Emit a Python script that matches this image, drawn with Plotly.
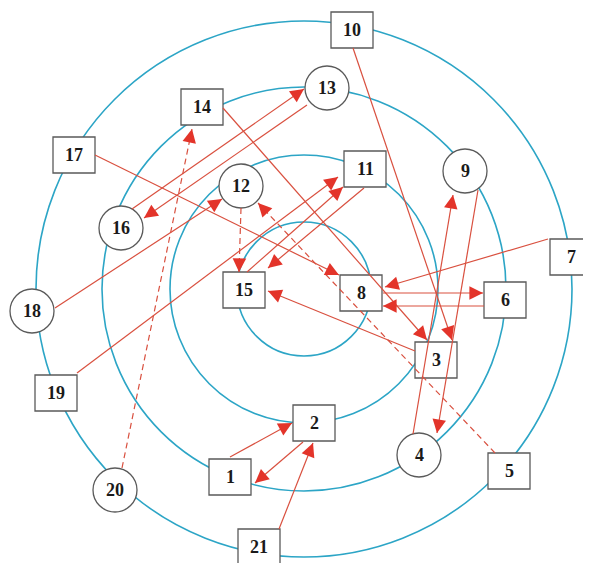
import math
import plotly.graph_objects as go

# ---------------- data ----------------
node_ids = list(range(1, 22))
node_shape = ["box", "box", "box", "circle", "box", "box", "box", "box", "circle", "box",
              "box", "circle", "circle", "box", "box", "circle", "box", "circle", "box", "circle", "box"]
node_x = [230, 314, 436, 419, 509, 505, 571, 361, 465, 352, 365, 241, 327, 202, 244, 121, 74, 32, 56, 115, 259]
node_y = [477, 423, 360, 455, 471, 300, 257, 293, 171, 30, 169, 186, 88, 107, 290, 228, 155, 311, 393, 490, 547]

ring_center = (304, 289)
ring_radii = [67, 134, 202, 268]

edge_src = [1, 2, 21, 20, 19, 15, 11, 18, 16, 13, 12, 5, 17, 14, 10, 3, 7, 8, 6, 4, 9]
edge_dst = [2, 1, 2, 14, 11, 11, 15, 12, 13, 16, 15, 12, 8, 3, 3, 15, 8, 6, 8, 9, 4]
edge_dashed = [False, False, False, True, False, False, False, False, False, False, True, True,
               False, False, False, False, False, False, False, False, False]

# ---------------- layout / style ----------------
# endpoint ports as offsets from node centres (source dx, dy, target dx, dy)
ports = [
    (0, -20, -22, 0), (-11, 19, 25, 6), (20, -18, -1, 20), (7, -22, -10, 22),
    (21, -20, -27, 8), (3, -18, -22, 18), (-1, 19, 24, -22), (23, -3, -19, 13),
    (11, -19, -23, 1), (-20, 17, 23, -10), (0, 22, -5, -18), (-14, -18, 17, 17),
    (21, 0, -22, -18), (21, 1, -9, -20), (1, 18, 16, -20), (-21, -9, 24, 1),
    (-23, -18, 24, -6), (22, 0, -22, -7), (-21, 6, 22, 13), (-6, -21, -12, 24),
    (13, 19, 18, -22),
]
W, H = 591, 563
PAGE_MARGIN = 8  # default body margin of the html page
ring_color = "#2CA5C6"
edge_color = "#D9503F"
head_color = "#E3342A"
node_line = "#5A5A5A"
BOX_W, BOX_H, CIRC_R = 42, 36, 22

fig = go.Figure()
shapes = []
cx, cy = ring_center
for r in ring_radii:
    shapes.append(dict(type="circle", xref="x", yref="y", x0=cx - r, x1=cx + r, y0=cy - r, y1=cy + r,
                       line=dict(color=ring_color, width=1.6), layer="below"))
for i, nid in enumerate(node_ids):
    x, y = node_x[i], node_y[i]
    if node_shape[i] == "box":
        shapes.append(dict(type="rect", xref="x", yref="y", x0=x - BOX_W / 2, x1=x + BOX_W / 2,
                           y0=y - BOX_H / 2, y1=y + BOX_H / 2, fillcolor="white",
                           line=dict(color=node_line, width=1.3), layer="below"))
    else:
        shapes.append(dict(type="circle", xref="x", yref="y", x0=x - CIRC_R, x1=x + CIRC_R,
                           y0=y - CIRC_R, y1=y + CIRC_R, fillcolor="white",
                           line=dict(color=node_line, width=1.3), layer="below"))

annotations = []
pos = {nid: (node_x[i], node_y[i]) for i, nid in enumerate(node_ids)}
for k in range(len(edge_src)):
    sx, sy = pos[edge_src[k]]
    tx, ty = pos[edge_dst[k]]
    p = ports[k]
    x0, y0 = sx + p[0], sy + p[1]
    x1, y1 = tx + p[2], ty + p[3]
    fig.add_trace(go.Scatter(x=[x0, x1], y=[y0, y1], mode="lines", hoverinfo="skip", showlegend=False,
                             line=dict(color=edge_color, width=1.2,
                                       dash="6px,4px" if edge_dashed[k] else "solid")))
    L = math.hypot(x1 - x0, y1 - y0)
    ux, uy = (x1 - x0) / L, (y1 - y0) / L
    annotations.append(dict(x=x1, y=y1, xref="x", yref="y", ax=-ux * 14, ay=-uy * 14,
                            showarrow=True, arrowhead=2, arrowsize=1.7, arrowwidth=1.6,
                            arrowcolor=head_color, text=""))

for i, nid in enumerate(node_ids):
    annotations.append(dict(x=node_x[i], y=node_y[i], xref="x", yref="y", text=f"<b>{nid}</b>",
                            showarrow=False, font=dict(family="Liberation Serif", size=18, color="#1a1a1a")))

fig.update_layout(width=W - PAGE_MARGIN, height=H - PAGE_MARGIN, margin=dict(l=0, r=0, t=0, b=0),
                  paper_bgcolor="white", plot_bgcolor="white",
                  xaxis=dict(range=[PAGE_MARGIN, W], visible=False, fixedrange=True),
                  yaxis=dict(range=[H, PAGE_MARGIN], visible=False, fixedrange=True),
                  shapes=shapes, annotations=annotations, showlegend=False)
fig.write_html("out.html")
